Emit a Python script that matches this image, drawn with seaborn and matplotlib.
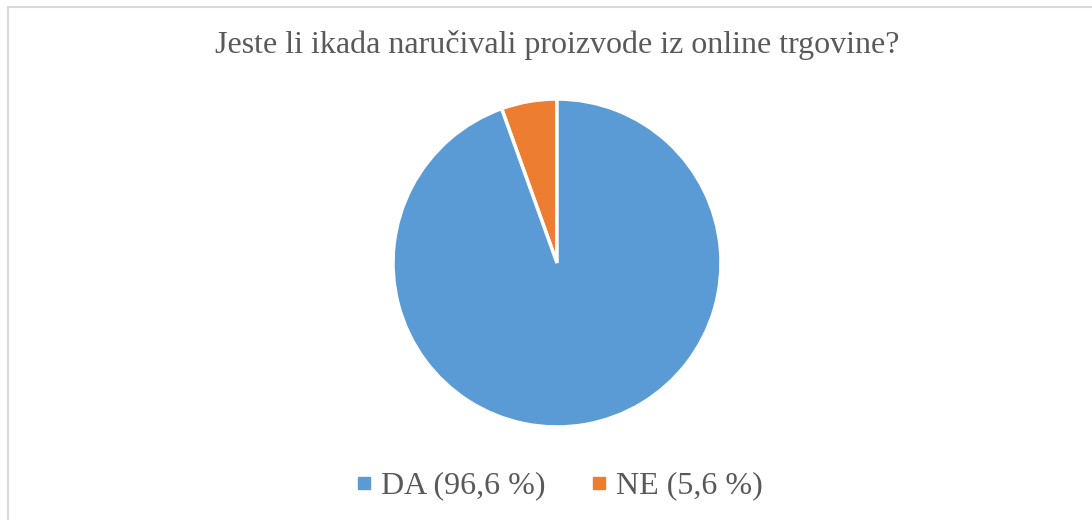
import matplotlib
matplotlib.use("Agg")
import matplotlib.pyplot as plt
import seaborn as sns
from matplotlib.patches import Rectangle
from matplotlib.lines import Line2D

labels = ["DA (96,6 %)", "NE (5,6 %)"]
values = [96.6, 5.6]
colors = ["#5B9BD5", "#ED7D31"]
title = "Jeste li ikada naručivali proizvode iz online trgovine?"

sns.set_theme(style="white")
plt.rcParams["font.family"] = ["Liberation Serif", "DejaVu Serif"]

fig = plt.figure(figsize=(10.92, 5.2), dpi=100)
fig.patch.set_facecolor("white")

# chart border (left/top visible, rest cropped like the original)
fig.patches.append(Rectangle((8 / 1092, -0.1), 1.2, (520 - 7) / 520 + 0.1,
                             transform=fig.transFigure, fill=False,
                             edgecolor="#D9D9D9", linewidth=1.5))

# pie axes: centre (557, 263), radius ~164 px
r = 164
cx, cy = 557, 263
ax = fig.add_axes([(cx - r) / 1092, (520 - cy - r) / 520, 2 * r / 1092, 2 * r / 520])
# NE drawn first, counter-clockwise from 12 o'clock, so it sits just left of the top
ax.pie(values[::-1], colors=colors[::-1], startangle=90, counterclock=True,
       wedgeprops=dict(edgecolor="white", linewidth=2.5), radius=1.0)
ax.set_xlim(-1, 1)
ax.set_ylim(-1, 1)
ax.axis("off")

fig.text(557 / 1092, 1 - 45 / 520, title, ha="center", va="center",
         fontsize=23, color="#595959")

handles = [Line2D([0], [0], marker="s", linestyle="", markersize=9,
                  markerfacecolor=c, markeredgecolor=c) for c in colors]
fig.legend(handles, labels, loc="center", bbox_to_anchor=(557 / 1092, 1 - 486 / 520),
           ncol=2, frameon=False, fontsize=23, labelcolor="#595959",
           handletextpad=0.15, columnspacing=1.25, handlelength=0.8)

fig.savefig("out.png", dpi=100)
